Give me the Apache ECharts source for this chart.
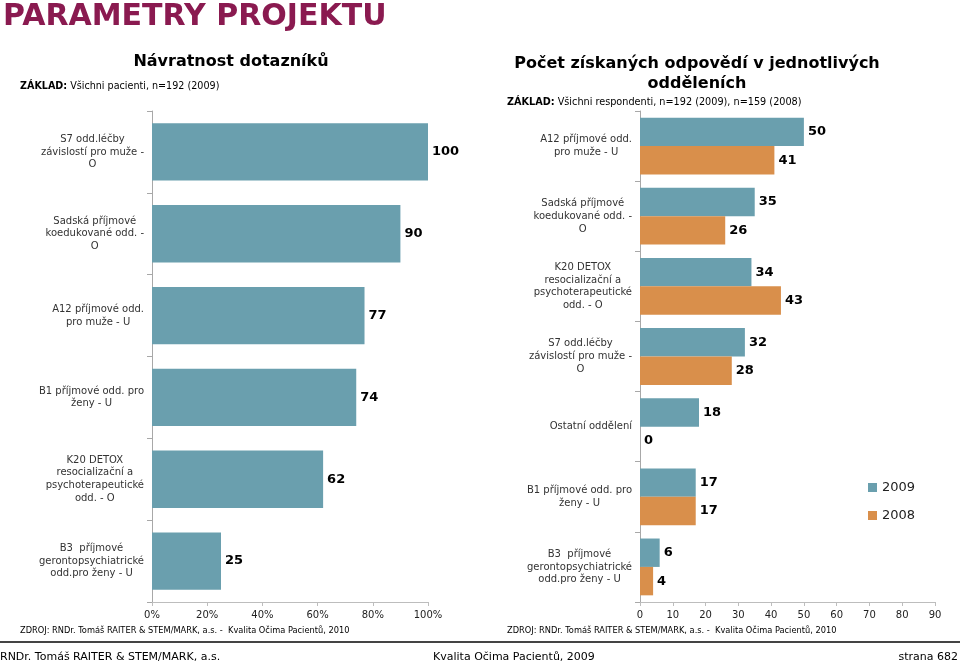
<!DOCTYPE html>
<html>
<head>
<meta charset="utf-8">
<script src="https://cdn.jsdelivr.net/npm/echarts@6/dist/echarts.min.js"></script>
<style>
html,body{margin:0;padding:0;background:#fff;}
#c{width:960px;height:663px;}
</style>
</head>
<body>
<div id="c"></div>
<script>
// ---- Data ----
var leftCategories = [
  "S7 odd.léčby\nzávislostí pro muže -\nO",
  "Sadská příjmové\nkoedukované odd. -\nO",
  "A12 příjmové odd.\npro muže - U",
  "B1 příjmové odd. pro\nženy - U",
  "K20 DETOX\nresocializační a\npsychoterapeutické\nodd. - O",
  "B3  příjmové\ngerontopsychiatrické\nodd.pro ženy - U"
];
var leftValues = [100, 90, 77, 74, 62, 25];

var rightCategories = [
  "A12 příjmové odd.\npro muže - U",
  "Sadská příjmové\nkoedukované odd. -\nO",
  "K20 DETOX\nresocializační a\npsychoterapeutické\nodd. - O",
  "S7 odd.léčby\nzávislostí pro muže -\nO",
  "Ostatní oddělení",
  "B1 příjmové odd. pro\nženy - U",
  "B3  příjmové\ngerontopsychiatrické\nodd.pro ženy - U"
];
var values2009 = [50, 35, 34, 32, 18, 17, 6];
var values2008 = [41, 26, 43, 28, 0, 17, 4];
var seriesNames = ["2009", "2008"];

var leftTicks = [0, 20, 40, 60, 80, 100];
var rightTicks = [0, 10, 20, 30, 40, 50, 60, 70, 80, 90];

// ---- Styles ----
var FONT = "DejaVu Sans";
var TEAL = "#6a9fae";
var ORANGE = "#d98f4b";

function catFormatter(v) {
  return v.split("\n").map(function (l) { return "{c|" + l + "}"; }).join("\n");
}
var catLabel = {
  margin: 8,
  align: "right",
  color: "#333",
  fontFamily: FONT,
  fontSize: 10,
  formatter: catFormatter,
  rich: { c: { align: "center", fontSize: 10, lineHeight: 12.8, color: "#333", fontFamily: FONT } }
};
var dataLabel = {
  show: true,
  position: "right",
  distance: 4,
  fontFamily: FONT,
  fontWeight: "bold",
  fontSize: 13,
  color: "#000"
};
var plain = function (size) {
  return { fontFamily: FONT, fontSize: size, fontWeight: "normal", color: "#000" };
};

var chart = echarts.init(document.getElementById("c"), null, { renderer: "canvas" });
chart.setOption({
  backgroundColor: "#fff",
  animation: false,
  textStyle: { fontFamily: FONT },
  title: [
    { text: "PARAMETRY PROJEKTU", left: 3, top: 2, padding: 0,
      textStyle: { fontFamily: FONT, fontSize: 30, fontWeight: "bold", color: "#8a1a50" } },
    { text: "Návratnost dotazníků", left: 231, top: 54, padding: 0, textAlign: "center",
      textStyle: { fontFamily: FONT, fontSize: 16, fontWeight: "bold", color: "#000" } },
    { text: "{b|ZÁKLAD:} Všichni pacienti, n=192 (2009)", left: 20, top: 81, padding: 0,
      textStyle: Object.assign(plain(9.6), {
        rich: { b: { fontFamily: FONT, fontSize: 9.6, fontWeight: "bold", color: "#000" } } }) },
    { text: "Počet získaných odpovědí v jednotlivých\nodděleních", left: 697, top: 54, padding: 0, textAlign: "center",
      textStyle: { fontFamily: FONT, fontSize: 16, fontWeight: "bold", color: "#000", lineHeight: 20 } },
    { text: "{b|ZÁKLAD:} Všichni respondenti, n=192 (2009), n=159 (2008)", left: 507, top: 97, padding: 0,
      textStyle: Object.assign(plain(9.7), {
        rich: { b: { fontFamily: FONT, fontSize: 9.7, fontWeight: "bold", color: "#000" } } }) },
    { text: "ZDROJ: RNDr. Tomáš RAITER & STEM/MARK, a.s. -  Kvalita Očima Pacientů, 2010", left: 20, top: 627, padding: 0,
      textStyle: plain(8.25) },
    { text: "ZDROJ: RNDr. Tomáš RAITER & STEM/MARK, a.s. -  Kvalita Očima Pacientů, 2010", left: 507, top: 627, padding: 0,
      textStyle: plain(8.25) },
    { text: "RNDr. Tomáš RAITER & STEM/MARK, a.s.", left: 0, top: 652, padding: 0, textStyle: plain(11) },
    { text: "Kvalita Očima Pacientů, 2009", left: 433, top: 652, padding: 0, textStyle: plain(11) },
    { text: "strana 682", right: 2, top: 652, padding: 0, textStyle: plain(11) }
  ],
  graphic: [
    { type: "line", shape: { x1: 0, y1: 642, x2: 960, y2: 642 }, style: { stroke: "#444", lineWidth: 2 } }
  ],
  legend: {
    data: seriesNames,
    orient: "vertical",
    left: 863,
    top: 476,
    itemWidth: 9,
    itemHeight: 9,
    itemGap: 15,
    icon: "rect",
    textStyle: { fontFamily: FONT, fontSize: 13, color: "#222" }
  },
  grid: [
    { left: 152, top: 111, width: 276, height: 491 },
    { left: 640, top: 111, width: 295, height: 491 }
  ],
  xAxis: [
    { gridIndex: 0, type: "value", min: leftTicks[0], max: leftTicks[leftTicks.length - 1], interval: 20,
      axisLine: { show: true, lineStyle: { color: "#bdbdbd" } },
      axisTick: { show: true, length: 4, lineStyle: { color: "#bdbdbd" } },
      splitLine: { show: false },
      axisLabel: { margin: 8, fontFamily: FONT, fontSize: 10, color: "#222", formatter: "{value}%" } },
    { gridIndex: 1, type: "value", min: rightTicks[0], max: rightTicks[rightTicks.length - 1], interval: 10,
      axisLine: { show: true, lineStyle: { color: "#bdbdbd" } },
      axisTick: { show: true, length: 4, lineStyle: { color: "#bdbdbd" } },
      splitLine: { show: false },
      axisLabel: { margin: 8, fontFamily: FONT, fontSize: 10, color: "#222" } }
  ],
  yAxis: [
    { gridIndex: 0, type: "category", data: leftCategories, inverse: true,
      axisLine: { show: true, lineStyle: { color: "#a8a8a8" } },
      axisTick: { show: true, length: 5, lineStyle: { color: "#a8a8a8" } },
      axisLabel: catLabel },
    { gridIndex: 1, type: "category", data: rightCategories, inverse: true,
      axisLine: { show: true, lineStyle: { color: "#a8a8a8" } },
      axisTick: { show: true, length: 5, lineStyle: { color: "#a8a8a8" } },
      axisLabel: catLabel }
  ],
  series: [
    { type: "bar", xAxisIndex: 0, yAxisIndex: 0, data: leftValues, barCategoryGap: "30%",
      itemStyle: { color: TEAL }, label: dataLabel },
    { name: seriesNames[0], type: "bar", xAxisIndex: 1, yAxisIndex: 1, data: values2009,
      barGap: "0%", barCategoryGap: "19%", itemStyle: { color: TEAL }, label: dataLabel },
    { name: seriesNames[1], type: "bar", xAxisIndex: 1, yAxisIndex: 1, data: values2008,
      barGap: "0%", barCategoryGap: "19%", itemStyle: { color: ORANGE }, label: dataLabel }
  ]
});
</script>
</body>
</html>
